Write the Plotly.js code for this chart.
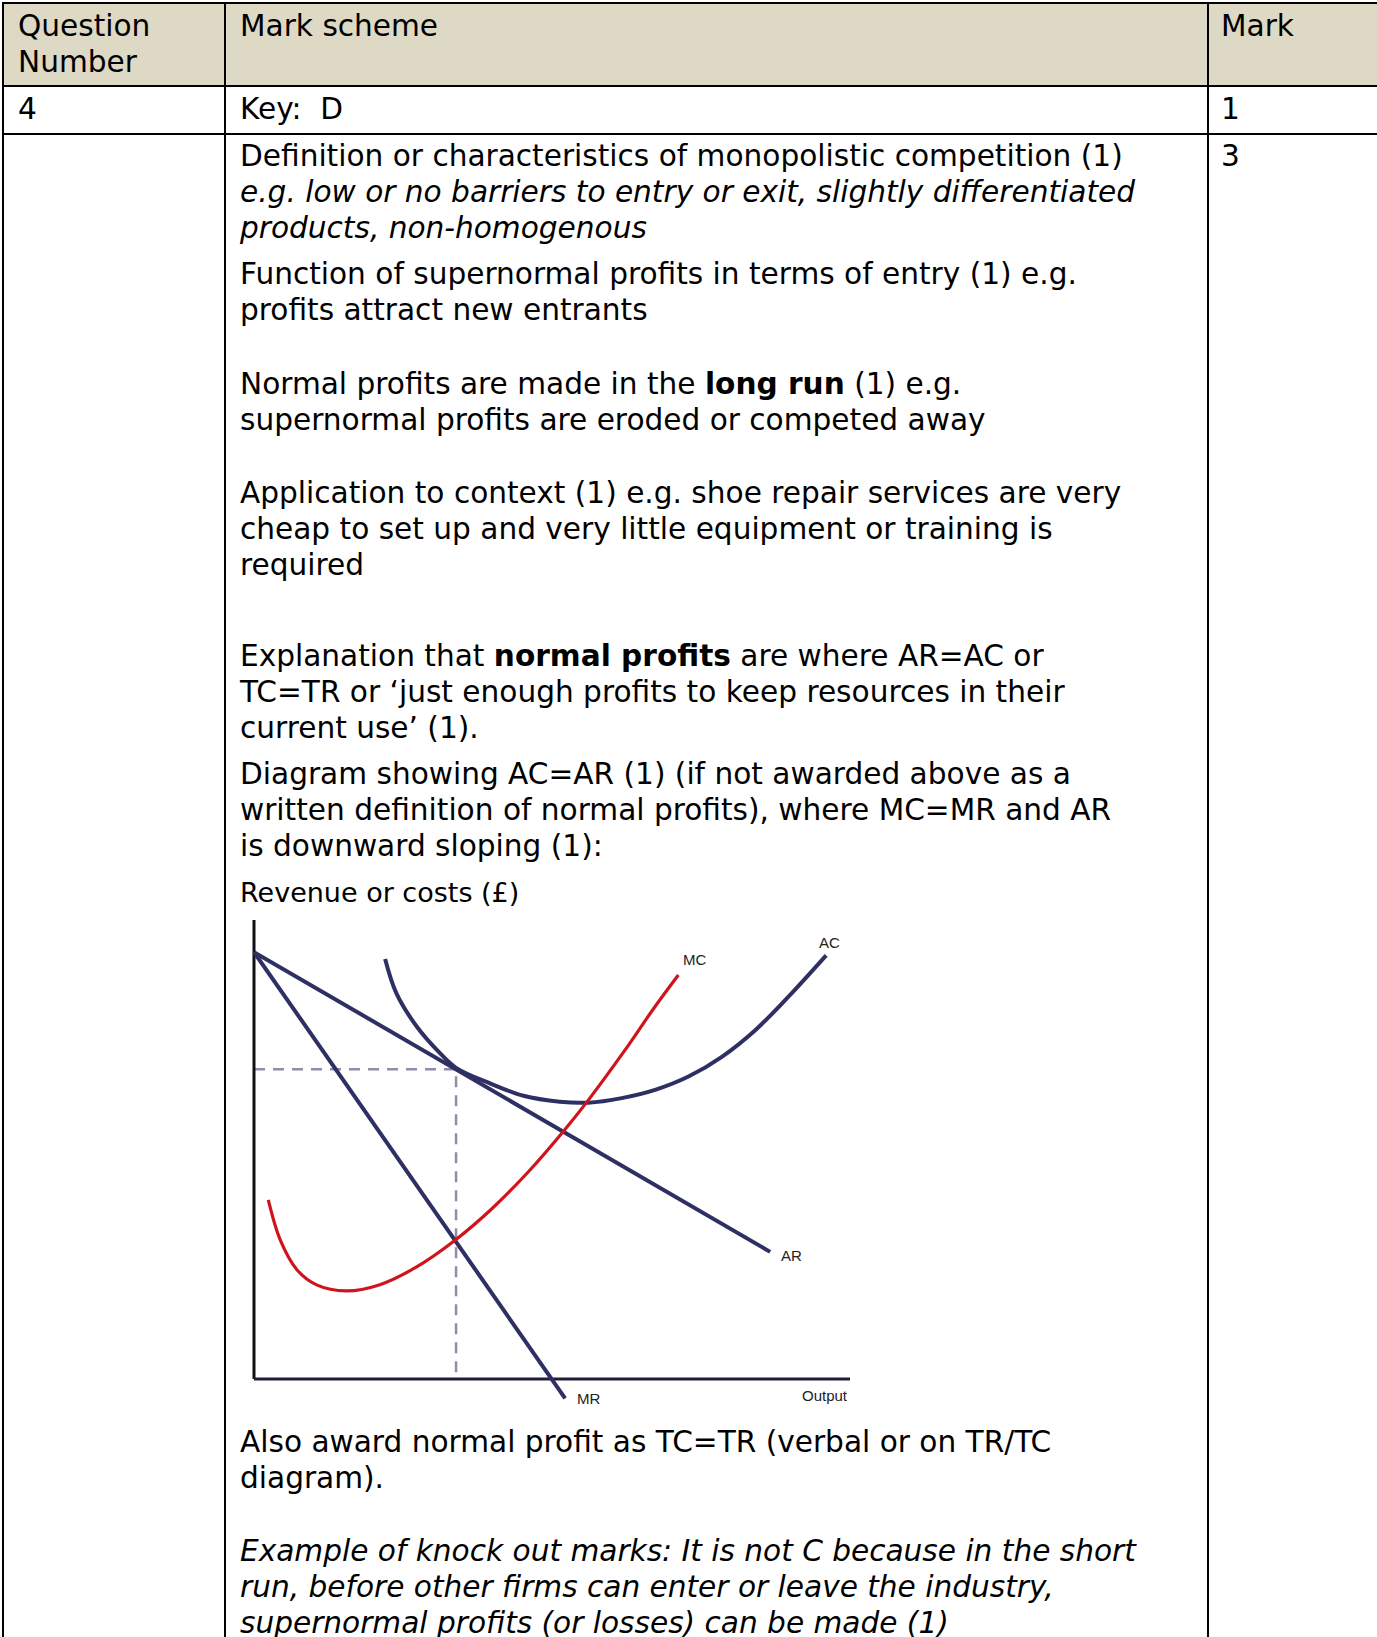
<!DOCTYPE html>
<html>
<head>
<meta charset="utf-8">
<script src="https://cdn.plot.ly/plotly-3.0.1.min.js"></script>
<style>
  html, body { margin:0; padding:0; background:#fff; }
  body { width:1377px; height:1637px; position:relative; overflow:hidden;
         font-family:"DejaVu Sans", Verdana, sans-serif; color:#000; }
  .hl { position:absolute; background:#000; }
  .t { position:absolute; font-size:29.6px; line-height:36px; white-space:nowrap; }
  .it { font-style:italic; }
  #hdr { position:absolute; left:2px; top:2px; width:1375px; height:84px; background:#DDD9C4; }
  #chart { position:absolute; left:240px; top:900px; width:640px; height:520px; }
</style>
</head>
<body>
<div id="hdr"></div>
<!-- table rules -->
<div class="hl" style="left:2px;top:2px;width:1375px;height:2px"></div>
<div class="hl" style="left:2px;top:85px;width:1375px;height:2px"></div>
<div class="hl" style="left:2px;top:133px;width:1375px;height:2px"></div>
<div class="hl" style="left:2px;top:2px;width:2px;height:1635px"></div>
<div class="hl" style="left:224px;top:2px;width:2px;height:1635px"></div>
<div class="hl" style="left:1207px;top:2px;width:2px;height:1635px"></div>

<!-- header -->
<div class="t" style="left:18px;top:7.6px">Question<br>Number</div>
<div class="t" style="left:240px;top:7.6px">Mark scheme</div>
<div class="t" style="left:1221px;top:7.6px">Mark</div>
<!-- row 2 -->
<div class="t" style="left:18px;top:90.7px">4</div>
<div class="t" style="left:240px;top:90.7px">Key:&nbsp; D</div>
<div class="t" style="left:1221px;top:90.7px">1</div>
<!-- row 3 -->
<div class="t" style="left:1221px;top:137.7px">3</div>
<div class="t" style="left:240px;top:137.7px">Definition or characteristics of monopolistic competition (1)<br><span class="it">e.g. low or no barriers to entry or exit, slightly differentiated<br>products, non-homogenous</span></div>
<div class="t" style="left:240px;top:255.7px">Function of supernormal profits in terms of entry (1) e.g.<br>profits attract new entrants</div>
<div class="t" style="left:240px;top:365.7px">Normal profits are made in the <b>long run</b> (1) e.g.<br>supernormal profits are eroded or competed away</div>
<div class="t" style="left:240px;top:474.7px">Application to context (1) e.g. shoe repair services are very<br>cheap to set up and very little equipment or training is<br>required</div>
<div class="t" style="left:240px;top:637.7px">Explanation that <b>normal profits</b> are where AR=AC or<br>TC=TR or ‘just enough profits to keep resources in their<br>current use’ (1).</div>
<div class="t" style="left:240px;top:755.7px">Diagram showing AC=AR (1) (if not awarded above as a<br>written definition of normal profits), where MC=MR and AR<br>is downward sloping (1):</div>
<div class="t" style="left:240px;top:876.8px;font-size:27px;line-height:32px">Revenue or costs (£)</div>
<div class="t" style="left:240px;top:1423.5px">Also award normal profit as TC=TR (verbal or on TR/TC<br>diagram).</div>
<div class="t it" style="left:240px;top:1532.7px">Example of knock out marks: It is not C because in the short<br>run, before other firms can enter or leave the industry,<br>supernormal profits (or losses) can be made (1)</div>

<div id="chart"></div>

<script>
// ---- chart data (data units: output on x, revenue/costs on y) ----
const yAxisX = [0, 0];
const yAxisY = [100, 0];
const xAxisX = [0, 100];
const xAxisY = [0, 0];

const arX = [0, 86.6];
const arY = [93, 27.7];

const mrX = [0, 52.2];
const mrY = [93, -4.2];

const acX = [22.0, 23.9, 27.3, 31.2, 33.9, 39.6, 45.2, 51.3, 56.1, 61.7, 67.3, 72.9, 78.5, 84.1, 89.6, 96.0];
const acY = [91.5, 84.0, 76.8, 71.0, 67.8, 64.4, 61.7, 60.4, 60.2, 61.2, 63.0, 65.9, 70.2, 76.0, 83.2, 92.3];

const mcX = [2.4, 4.4, 7.2, 10.5, 15.5, 21.0, 27.0, 33.9, 40.0, 46.0, 52.0, 56.0, 62.0, 67.0, 71.2];
const mcY = [39.0, 30.3, 23.8, 20.5, 19.2, 20.5, 24.2, 30.4, 37.2, 45.1, 54.1, 60.6, 71.2, 80.6, 88.0];

const eqQ = 33.9;   // output where AC = AR
const eqP = 67.5;   // price / average cost at that output
const guideX = [0, eqQ, eqQ];
const guideY = [eqP, eqP, 0];

const labelText = ['MC', 'AC', 'AR', 'MR', 'Output'];
const labelX = [73.9, 96.6, 90.2, 56.1, 95.8];
const labelY = [91.3, 95.1, 27.0, -4.2, -3.7];

// ---- pixel mapping of the embedded diagram ----
const box = {left: 240, top: 900, w: 640, h: 520};
const origin = {x: 254, y: 1379};
const pxX = 5.96, pxY = 4.59;
const xr = [(box.left - origin.x) / pxX, (box.left + box.w - origin.x) / pxX];
const yr = [(origin.y - (box.top + box.h)) / pxY, (origin.y - box.top) / pxY];

const navy = '#2E3063';
const traces = [
  {x: guideX, y: guideY, mode: 'lines', line: {color: '#8E8EA6', width: 2.5, dash: '11px,8px'}},
  {x: yAxisX, y: yAxisY, mode: 'lines', line: {color: '#111111', width: 3}},
  {x: xAxisX, y: xAxisY, mode: 'lines', line: {color: '#1E1E3A', width: 3}},
  {x: acX, y: acY, mode: 'lines', line: {color: navy, width: 4, shape: 'spline', smoothing: 1}},
  {x: arX, y: arY, mode: 'lines', line: {color: navy, width: 4}},
  {x: mrX, y: mrY, mode: 'lines', line: {color: navy, width: 4}},
  {x: mcX, y: mcY, mode: 'lines', line: {color: '#D0141E', width: 3.2, shape: 'spline', smoothing: 1}}
];

const annotations = labelText.map((t, i) => ({
  x: labelX[i], y: labelY[i], xref: 'x', yref: 'y', text: t, showarrow: false,
  xanchor: 'center', yanchor: 'middle',
  font: {family: 'Liberation Sans, Arial, sans-serif', size: 15, color: '#222222'}
}));

const layout = {
  width: box.w, height: box.h,
  margin: {l: 0, r: 0, t: 0, b: 0, pad: 0},
  paper_bgcolor: 'rgba(0,0,0,0)', plot_bgcolor: 'rgba(0,0,0,0)',
  showlegend: false,
  xaxis: {range: xr, visible: false, fixedrange: true},
  yaxis: {range: yr, visible: false, fixedrange: true},
  annotations: annotations
};

Plotly.newPlot('chart', traces, layout, {staticPlot: true, displayModeBar: false});
</script>
</body>
</html>
